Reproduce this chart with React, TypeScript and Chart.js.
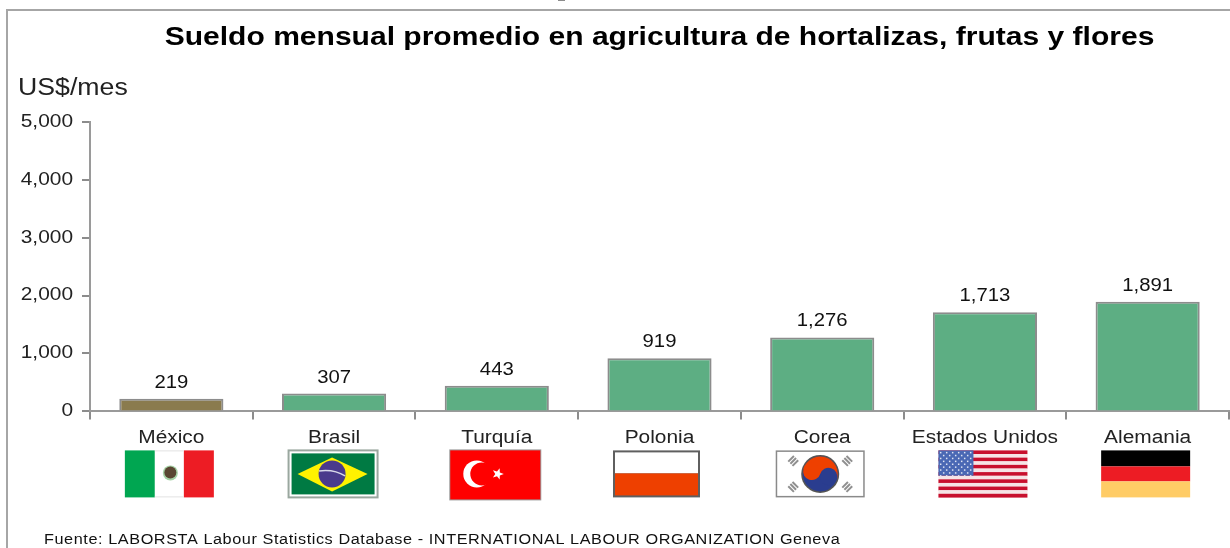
import React, { useEffect, useRef } from "react";
import { Chart, registerables } from "chart.js";

Chart.register(...registerables);

const categories = ["México", "Brasil", "Turquía", "Polonia", "Corea", "Estados Unidos", "Alemania"];
const wages = [219, 307, 443, 919, 1276, 1713, 1891];
const barColors = ["#8a7b4e", "#5dae83", "#5dae83", "#5dae83", "#5dae83", "#5dae83", "#5dae83"];
const titleText = "Sueldo mensual promedio en agricultura de hortalizas, frutas y flores";
const unitText = "US$/mes";
const sourceText = "Fuente: LABORSTA Labour Statistics Database - INTERNATIONAL LABOUR ORGANIZATION Geneva";
const flagKinds = ["mx", "br", "tr", "pl", "kr", "us", "de"];

const FONT = "'Liberation Sans', Arial, sans-serif";
const TEXT_STRETCH = 1.16;

type Ctx = CanvasRenderingContext2D;

function stretchText(ctx: any) {
  const original = ctx.fillText.bind(ctx);
  ctx.fillText = (text: string, x: number, y: number) => {
    ctx.save();
    ctx.translate(x, y);
    ctx.scale(TEXT_STRETCH, 1);
    original(text, 0, 0);
    ctx.restore();
  };
}

function rect(ctx: Ctx, color: string, x: number, y: number, w: number, h: number) {
  ctx.fillStyle = color;
  ctx.fillRect(x, y, w, h);
}

function star(ctx: Ctx, cx: number, cy: number, r: number, rot: number) {
  ctx.beginPath();
  for (let i = 0; i < 10; i++) {
    const rad = i % 2 === 0 ? r : r * 0.42;
    const a = rot + (i * Math.PI) / 5;
    ctx.lineTo(cx + rad * Math.cos(a), cy + rad * Math.sin(a));
  }
  ctx.closePath();
  ctx.fill();
}

function drawFlag(ctx: Ctx, kind: string, cx: number, cy: number) {
  const w = 89, h = 47;
  const x = cx - w / 2, y = cy - h / 2;
  ctx.save();
  if (kind === "mx") {
    rect(ctx, "#00a651", x, y, 30, h);
    rect(ctx, "#ffffff", x + 30, y, 29, h);
    rect(ctx, "#ed1c24", x + 59, y, 30, h);
    ctx.strokeStyle = "#e2e2e2"; ctx.lineWidth = 1;
    ctx.beginPath();
    ctx.moveTo(x + 30, y + 0.5); ctx.lineTo(x + 59, y + 0.5);
    ctx.moveTo(x + 30, y + h - 0.5); ctx.lineTo(x + 59, y + h - 0.5);
    ctx.stroke();
    ctx.fillStyle = "#a5d1a5";
    ctx.beginPath(); ctx.arc(cx + 1, cy - 1, 7.5, 0, Math.PI * 2); ctx.fill();
    ctx.fillStyle = "#5a4632";
    ctx.beginPath(); ctx.arc(cx + 1, cy - 1.5, 6, 0, Math.PI * 2); ctx.fill();
  } else if (kind === "br") {
    rect(ctx, "#9aa79f", x, y - 1, w + 2, h + 2);
    rect(ctx, "#ffffff", x + 2, y + 1, w - 2, h - 2);
    rect(ctx, "#007a43", x + 4, y + 3, w - 6, h - 6);
    ctx.fillStyle = "#fff200";
    ctx.beginPath();
    ctx.moveTo(x + 10, cy); ctx.lineTo(cx, y + 7); ctx.lineTo(x + 80, cy); ctx.lineTo(cx, y + 41);
    ctx.closePath(); ctx.fill();
    ctx.fillStyle = "#4a3a8c";
    ctx.beginPath(); ctx.arc(cx, cy, 13.5, 0, Math.PI * 2); ctx.fill();
    ctx.strokeStyle = "#d8d8e8"; ctx.lineWidth = 1.5;
    ctx.beginPath(); ctx.moveTo(cx - 13, cy - 3); ctx.quadraticCurveTo(cx + 2, cy - 5, cx + 13, cy + 2); ctx.stroke();
  } else if (kind === "tr") {
    rect(ctx, "#9a9a9a", x - 1, y - 1, w + 3, h + 4);
    rect(ctx, "#ff0000", x, y, w + 1, h + 2);
    ctx.fillStyle = "#ffffff";
    ctx.beginPath(); ctx.arc(cx - 18, cy, 13.5, 0, Math.PI * 2); ctx.fill();
    ctx.fillStyle = "#ff0000";
    ctx.beginPath(); ctx.arc(cx - 13, cy, 11.5, 0, Math.PI * 2); ctx.fill();
    ctx.fillStyle = "#ffffff";
    star(ctx, cx + 3, cy, 6, 0);
  } else if (kind === "pl") {
    rect(ctx, "#5f5f5f", x, y, w - 2, h);
    rect(ctx, "#ffffff", x + 2, y + 2, w - 6, 21);
    rect(ctx, "#ee4000", x + 2, y + 23, w - 6, h - 25);
  } else if (kind === "kr") {
    rect(ctx, "#8a8a8a", x, y, w, h);
    rect(ctx, "#ffffff", x + 1.5, y + 1.5, w - 3, h - 3);
    const r = 17.5;
    ctx.fillStyle = "#555555";
    ctx.beginPath(); ctx.arc(cx, cy, r + 1.5, 0, Math.PI * 2); ctx.fill();
    ctx.save();
    ctx.translate(cx, cy);
    ctx.rotate(0.3);
    ctx.fillStyle = "#2a3d8f";
    ctx.beginPath(); ctx.arc(0, 0, r, 0, Math.PI * 2); ctx.fill();
    ctx.fillStyle = "#ee4000";
    ctx.beginPath(); ctx.arc(0, 0, r, Math.PI, 0); ctx.fill();
    ctx.beginPath(); ctx.arc(-r / 2, 0, r / 2, 0, Math.PI * 2); ctx.fill();
    ctx.fillStyle = "#2a3d8f";
    ctx.beginPath(); ctx.arc(r / 2, 0, r / 2, 0, Math.PI * 2); ctx.fill();
    ctx.restore();
    ctx.strokeStyle = "#8f8f8f"; ctx.lineWidth = 2;
    const corners = [[-1, -1], [1, -1], [-1, 1], [1, 1]];
    corners.forEach(([sx, sy]) => {
      const mx = cx + sx * 27, my = cy + sy * 13;
      const ang = sx * sy > 0 ? -Math.PI / 4 : Math.PI / 4;
      ctx.save(); ctx.translate(mx, my); ctx.rotate(ang);
      [-3, 0, 3].forEach((d) => {
        ctx.beginPath(); ctx.moveTo(-4, d); ctx.lineTo(4, d); ctx.stroke();
      });
      ctx.restore();
    });
  } else if (kind === "us") {
    const sh = h / 13;
    for (let i = 0; i < 13; i++) {
      rect(ctx, i % 2 === 0 ? "#c8102e" : "#f6e4e6", x, y + i * sh, w, sh + 0.2);
    }
    rect(ctx, "#4a68b4", x, y, 35, 7 * sh);
    ctx.fillStyle = "#dfe4f3";
    for (let r = 0; r < 9; r++) {
      for (let c = 0; c < 11; c++) {
        if ((r + c) % 2 === 0) ctx.fillRect(x + 1.5 + c * 3, y + 1.5 + r * 2.9, 1.5, 1.5);
      }
    }
  } else if (kind === "de") {
    rect(ctx, "#000000", x, y, w, 16);
    rect(ctx, "#ed1c24", x, y + 16, w, 15);
    rect(ctx, "#ffcc66", x, y + 31, w, 16);
  }
  ctx.restore();
}

const overlayPlugin = {
  id: "overlay",
  beforeDraw(chart: any) {
    const ctx: Ctx = chart.ctx;
    ctx.save();
    rect(ctx, "#ffffff", 0, 0, chart.width, chart.height);
    rect(ctx, "#8c8c8c", 558, 0, 7, 1);
    ctx.strokeStyle = "#a6a6a6";
    ctx.lineWidth = 2;
    ctx.beginPath();
    ctx.moveTo(7, chart.height);
    ctx.lineTo(7, 10);
    ctx.lineTo(chart.width, 10);
    ctx.stroke();
    ctx.restore();
  },
  afterDatasetsDraw(chart: any) {
    const ctx: Ctx = chart.ctx;
    const meta = chart.getDatasetMeta(0);
    const xScale = chart.scales.x;
    ctx.save();
    ctx.font = `17.5px ${FONT}`;
    ctx.fillStyle = "#111111";
    ctx.textAlign = "center";
    ctx.textBaseline = "alphabetic";
    meta.data.forEach((bar: any, i: number) => {
      ctx.fillText(wages[i].toLocaleString("en-US"), bar.x, bar.y - 11);
    });
    flagKinds.forEach((kind, i) => {
      drawFlag(ctx, kind, xScale.getPixelForValue(i) - 2, chart.chartArea.bottom + 62.5);
    });
    (ctx as any).letterSpacing = "0.5px";
    ctx.font = `14px ${FONT}`;
    ctx.fillStyle = "#111111";
    ctx.textAlign = "left";
    ctx.fillText(sourceText, 44, chart.height - 4);
    ctx.restore();
  },
};

export default function App() {
  const ref = useRef<HTMLCanvasElement>(null);
  useEffect(() => {
    const canvas = ref.current!;
    stretchText(canvas.getContext("2d"));
    const chart = new Chart(canvas, {
      type: "bar",
      data: {
        labels: categories,
        datasets: [{
          data: wages,
          backgroundColor: barColors,
          borderColor: "#8c8c8c",
          borderWidth: 2,
          categoryPercentage: 1,
          barPercentage: 0.64,
        }],
      },
      plugins: [overlayPlugin],
      options: {
        responsive: false,
        animation: false,
        devicePixelRatio: 1,
        layout: { padding: { left: 18, right: 1, top: 0, bottom: 91 } },
        plugins: {
          legend: { display: false },
          tooltip: { enabled: false },
          title: {
            display: true,
            text: titleText,
            fullSize: false,
            align: "center",
            color: "#000000",
            font: { family: FONT, size: 25.9, weight: "bold" },
            padding: { top: 22, bottom: 22 },
          },
          subtitle: {
            display: true,
            text: unitText,
            align: "start",
            fullSize: true,
            color: "#222222",
            font: { family: FONT, size: 23, weight: "normal" },
            padding: { top: 0, bottom: 19 },
          },
        },
        scales: {
          x: {
            grid: { display: true, offset: true, drawOnChartArea: false, color: "#8c8c8c", lineWidth: 2, tickLength: 8 },
            border: { color: "#9a9a9a", width: 2 },
            ticks: { color: "#222222", font: { family: FONT, size: 18 }, padding: 8, maxRotation: 0, autoSkip: false },
          },
          y: {
            min: 0,
            max: 5000,
            afterFit: (s: any) => { s.width = 72; },
            grid: { display: true, drawOnChartArea: false, color: "#8c8c8c", lineWidth: 2, tickLength: 8 },
            border: { color: "#9a9a9a", width: 2 },
            ticks: {
              stepSize: 1000,
              color: "#222222",
              padding: 9,
              font: { family: FONT, size: 18 },
              callback: (v: any) => Number(v).toLocaleString("en-US"),
            },
          },
        },
      },
    } as any);
    return () => chart.destroy();
  }, []);
  return (
    <div style={{ position: "fixed", left: 0, top: 0, width: 1230, height: 548, background: "#fff" }}>
      <canvas ref={ref} width={1230} height={548} style={{ display: "block" }} />
    </div>
  );
}
